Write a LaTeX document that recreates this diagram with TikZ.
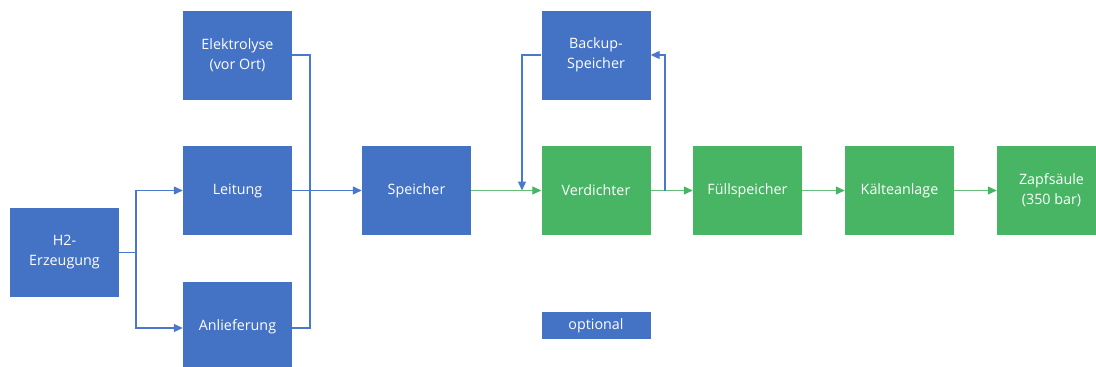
\documentclass[tikz,border=0pt]{standalone}
\usepackage{fontspec}
\setmainfont{Open Sans}
\usetikzlibrary{arrows.meta}
\definecolor{bbox}{HTML}{4472C4}
\definecolor{gbox}{HTML}{47B563}
\definecolor{bline}{HTML}{4A78CA}
\definecolor{gline}{HTML}{66C07C}
\begin{document}
\begin{tikzpicture}[x=1pt,y=-1pt,
  box/.style={minimum width=109pt,minimum height=89pt,inner sep=0pt,text=white,align=center,
    font=\fontsize{14.3}{20}\selectfont},
  bluebox/.style={box,fill=bbox},
  greenbox/.style={box,fill=gbox},
  bconn/.style={draw=bline,line width=1.2pt,-{Triangle[length=9pt,width=8pt]}},
  bplain/.style={draw=bline,line width=1.2pt},
  gconn/.style={draw=gline,line width=1.2pt,-{Triangle[length=9pt,width=8pt,color=gbox,fill=gbox]}}]
\useasboundingbox (0,0) rectangle (1096,367);
\fill[white] (0,0) rectangle (1096,367);
\node[bluebox] (h2) at (64.5,252.5) {H2-\\Erzeugung};
\node[bluebox] (elek) at (237.5,55) {Elektrolyse\\(vor Ort)};
\node[bluebox] (leit) at (237.5,190.5) {Leitung};
\node[bluebox] (anl) at (237.5,326.5) {Anlieferung};
\node[bluebox] (spei) at (416.5,190.5) {Speicher};
\node[bluebox] (back) at (596,55) {Backup-\\Speicher};
\node[greenbox] (verd) at (596,190.5) {Verdichter};
\node[bluebox,minimum height=27pt] (opt) at (596,325.5) {optional};
\node[greenbox] (fuell) at (747.5,190.5) {Füllspeicher};
\node[greenbox] (kaelte) at (899.5,190.5) {Kälteanlage};
\node[greenbox] (zapf) at (1051.5,190.5) {Zapfsäule\\(350 bar)};
\coordinate (j1) at (136,252.5);
\coordinate (j2) at (310,190.5);
\coordinate (j3) at (522,190.5);
\coordinate (j4) at (665,190.5);
\draw[bplain] (h2.east) -- (j1);
\draw[bconn] (j1) |- (leit.west);
\draw[bconn] (j1) |- ([yshift=-1.5pt]anl.west);
\draw[bplain] (elek.east) -| (j2);
\draw[bplain] ([yshift=-1.5pt]anl.east) -| (j2);
\draw[bconn] (leit.east) -- (spei.west);
\draw[gconn] (spei.east) -- (verd.west);
\draw[gconn] (verd.east) -- (fuell.west);
\draw[gconn] (fuell.east) -- (kaelte.west);
\draw[gconn] (kaelte.east) -- (zapf.west);
\draw[bconn] (back.west) -| (j3);
\draw[bconn] (j4) |- (back.east);
\end{tikzpicture}
\end{document}
